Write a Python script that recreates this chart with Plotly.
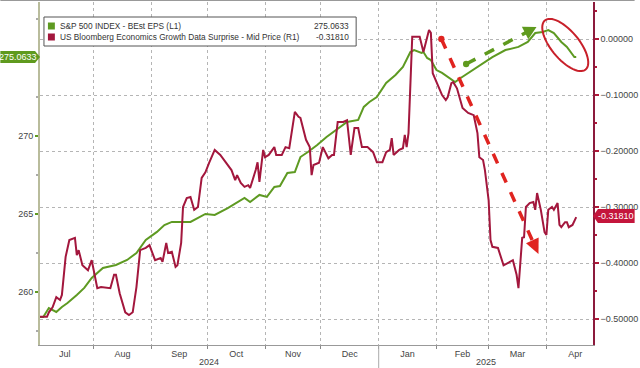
import numpy as np
import plotly.graph_objects as go

# ---------------- data ----------------
eps_dates = ["2024-07-03", "2024-07-05", "2024-07-08", "2024-07-12", "2024-07-15", "2024-07-18",
             "2024-07-23", "2024-07-27", "2024-07-31", "2024-08-03", "2024-08-06", "2024-08-13",
             "2024-08-19", "2024-08-24", "2024-08-29", "2024-09-04", "2024-09-08", "2024-09-12",
             "2024-09-15", "2024-09-22", "2024-09-30", "2024-10-05", "2024-10-12", "2024-10-21",
             "2024-10-24", "2024-10-29", "2024-11-02", "2024-11-06", "2024-11-09", "2024-11-13",
             "2024-11-17", "2024-11-20", "2024-11-24", "2024-11-29", "2024-12-04", "2024-12-09",
             "2024-12-15", "2024-12-21", "2024-12-24", "2024-12-27", "2024-12-31", "2025-01-05",
             "2025-01-10", "2025-01-14", "2025-01-18", "2025-01-20", "2025-01-24", "2025-01-25",
             "2025-01-27", "2025-01-29", "2025-02-01", "2025-02-04", "2025-02-09", "2025-02-11",
             "2025-02-14", "2025-02-18", "2025-02-23", "2025-03-03", "2025-03-10", "2025-03-17",
             "2025-03-22", "2025-03-26", "2025-03-30", "2025-04-02", "2025-04-05", "2025-04-09",
             "2025-04-12", "2025-04-16", "2025-04-17"]
eps_values = [258.40, 258.40, 258.97, 258.72, 259.04, 259.29,
              259.81, 260.26, 260.90, 261.22, 261.54, 261.73,
              262.05, 262.50, 263.33, 263.85, 264.29, 264.49,
              264.49, 264.49, 265.00, 264.94, 265.38, 266.03,
              265.77, 266.22, 266.09, 266.73, 266.79, 267.63,
              267.69, 268.65, 268.97, 269.42, 269.94, 270.38,
              270.90, 271.03, 271.86, 272.18, 272.50, 273.40,
              273.91, 274.42, 275.38, 275.51, 275.32, 275.38,
              275.00, 274.87, 274.23, 274.04, 273.59, 273.46,
              273.72, 274.04, 274.42, 275.06, 275.51, 275.71,
              276.03, 276.60, 276.67, 276.79, 276.60, 276.03,
              275.71, 275.06, 275.0633]

surp_dates = ["2024-07-03", "2024-07-07", "2024-07-08", "2024-07-10", "2024-07-12", "2024-07-14",
              "2024-07-15", "2024-07-17", "2024-07-19", "2024-07-22", "2024-07-23", "2024-07-24",
              "2024-07-26", "2024-07-29", "2024-07-31", "2024-08-03", "2024-08-05", "2024-08-10",
              "2024-08-12", "2024-08-13", "2024-08-15", "2024-08-18", "2024-08-20", "2024-08-22",
              "2024-08-24", "2024-08-26", "2024-08-29", "2024-08-31", "2024-09-03", "2024-09-06",
              "2024-09-07", "2024-09-09", "2024-09-10", "2024-09-12", "2024-09-14", "2024-09-15",
              "2024-09-17", "2024-09-18", "2024-09-20", "2024-09-22", "2024-09-24", "2024-09-26",
              "2024-09-28", "2024-09-30", "2024-10-02", "2024-10-05", "2024-10-08", "2024-10-12",
              "2024-10-14", "2024-10-16", "2024-10-17", "2024-10-19", "2024-10-21", "2024-10-23",
              "2024-10-24", "2024-10-27", "2024-10-28", "2024-10-29", "2024-10-31", "2024-11-01",
              "2024-11-03", "2024-11-06", "2024-11-07", "2024-11-10", "2024-11-12", "2024-11-14",
              "2024-11-17", "2024-11-19", "2024-11-20", "2024-11-23", "2024-11-25", "2024-11-26",
              "2024-11-27", "2024-11-30", "2024-12-02", "2024-12-05", "2024-12-07", "2024-12-08",
              "2024-12-10", "2024-12-13", "2024-12-15", "2024-12-17", "2024-12-19", "2024-12-21",
              "2024-12-23", "2024-12-26", "2024-12-29", "2024-12-31", "2025-01-03", "2025-01-05",
              "2025-01-07", "2025-01-08", "2025-01-09", "2025-01-12", "2025-01-14", "2025-01-15",
              "2025-01-16", "2025-01-17", "2025-01-19", "2025-01-23", "2025-01-25", "2025-01-28",
              "2025-01-29", "2025-01-30", "2025-02-01", "2025-02-02", "2025-02-04", "2025-02-06",
              "2025-02-07", "2025-02-09", "2025-02-10", "2025-02-12", "2025-02-14", "2025-02-15",
              "2025-02-18", "2025-02-21", "2025-02-23", "2025-02-24", "2025-02-26", "2025-02-27",
              "2025-03-01", "2025-03-02", "2025-03-03", "2025-03-06", "2025-03-09", "2025-03-11",
              "2025-03-14", "2025-03-16", "2025-03-17", "2025-03-19", "2025-03-20", "2025-03-21",
              "2025-03-23", "2025-03-25", "2025-03-26", "2025-03-27", "2025-03-29", "2025-03-31",
              "2025-04-01", "2025-04-02", "2025-04-04", "2025-04-05", "2025-04-07", "2025-04-08",
              "2025-04-09", "2025-04-11", "2025-04-12", "2025-04-13", "2025-04-15", "2025-04-17"]
surp_values = [-0.496, -0.496, -0.488, -0.479, -0.461, -0.466,
               -0.457, -0.389, -0.359, -0.355, -0.386, -0.377,
               -0.404, -0.413, -0.395, -0.445, -0.443, -0.445,
               -0.421, -0.421, -0.454, -0.488, -0.493, -0.488,
               -0.443, -0.377, -0.373, -0.368, -0.395, -0.391,
               -0.398, -0.364, -0.382, -0.380, -0.407, -0.404,
               -0.364, -0.300, -0.284, -0.282, -0.305, -0.300,
               -0.248, -0.238, -0.221, -0.198, -0.207, -0.225,
               -0.234, -0.252, -0.243, -0.257, -0.264, -0.261,
               -0.266, -0.234, -0.220, -0.255, -0.198, -0.211,
               -0.207, -0.193, -0.207, -0.207, -0.193, -0.195,
               -0.130, -0.139, -0.141, -0.180, -0.193, -0.243,
               -0.225, -0.221, -0.193, -0.213, -0.207, -0.207,
               -0.148, -0.148, -0.145, -0.207, -0.159, -0.159,
               -0.193, -0.193, -0.202, -0.220, -0.220, -0.202,
               -0.198, -0.177, -0.207, -0.198, -0.195, -0.171,
               -0.193, -0.168, 0.004, 0.004, -0.023, 0.016,
               0.011, -0.061, -0.077, -0.086, -0.100, -0.109,
               -0.104, -0.079, -0.077, -0.088, -0.109, -0.123,
               -0.132, -0.136, -0.168, -0.211, -0.216, -0.234,
               -0.288, -0.359, -0.371, -0.373, -0.404, -0.400,
               -0.395, -0.421, -0.445, -0.355, -0.354, -0.300,
               -0.293, -0.291, -0.305, -0.275, -0.305, -0.345,
               -0.350, -0.305, -0.300, -0.305, -0.293, -0.332,
               -0.336, -0.327, -0.327, -0.336, -0.332, -0.3181]

eps_name = "S&P 500 INDEX - BEst EPS (L1)"
surp_name = "US Bloomberg Economics Growth Data Surprise - Mid Price (R1)"
eps_last = "275.0633"
surp_last = "-0.31810"
left_ticks = [260, 265, 270]
years = ["2024", "2025"]

GREEN = "#5e9a22"
RED = "#a3173d"
ARROW_RED = "#e02420"
FONT = "Liberation Sans, Arial, sans-serif"

# plot area in pixels
L, R, T, B = 40, 598, 2, 345


def px(x):
    return (x - L) / (R - L)


def py(y):
    return (B - y) / (B - T)


def note(x, y, text, size=9, color="#444", anchor="center"):
    return dict(xref="paper", yref="paper", x=px(x), y=py(y), text=text, showarrow=False,
                xanchor=anchor, yanchor="middle", font=dict(size=size, color=color, family=FONT))


fig = go.Figure()
fig.add_trace(go.Scatter(x=eps_dates, y=eps_values, mode="lines", name=eps_name,
                         line=dict(color=GREEN, width=2), yaxis="y", showlegend=False))
fig.add_trace(go.Scatter(x=surp_dates, y=surp_values, mode="lines", name=surp_name,
                         line=dict(color=RED, width=2), yaxis="y2", showlegend=False))

shapes = []
annotations = []

# legend box
shapes.append(dict(type="rect", xref="paper", yref="paper", x0=px(44), x1=px(359), y0=py(46), y1=py(17),
                   line=dict(color="#555", width=1), fillcolor="white", layer="above"))
for i, (col, name, val) in enumerate([(GREEN, eps_name, eps_last), (RED, surp_name, surp_last)]):
    yc = 26 + i * 11
    shapes.append(dict(type="rect", xref="paper", yref="paper", x0=px(48), x1=px(55),
                       y0=py(yc + 3.5), y1=py(yc - 3.5), line=dict(width=0), fillcolor=col, layer="above"))
    annotations.append(note(58, yc, name, size=8.3, color="#333", anchor="left"))
    annotations.append(note(354, yc, val, size=8.3, color="#333", anchor="right"))


def poly(points):
    return "M " + " L ".join(f"{px(a):.5f},{py(b):.5f}" for a, b in points) + " Z"


# value tags
shapes.append(dict(type="path", xref="paper", yref="paper",
                   path=poly([(0, 51), (35, 51), (40, 57), (35, 63), (0, 63)]),
                   fillcolor="#5f9a1e", line=dict(width=0), layer="above"))
annotations.append(note(18, 57, eps_last, size=9, color="white"))
shapes.append(dict(type="path", xref="paper", yref="paper",
                   path=poly([(598, 216), (603, 209), (640, 209), (640, 223), (603, 223)]),
                   fillcolor="#c4163c", line=dict(width=0), layer="above"))
annotations.append(note(621, 216, surp_last, size=9, color="white"))

# year labels and separator
annotations.append(note(211, 362, years[0]))
annotations.append(note(490, 362, years[1]))
shapes.append(dict(type="line", xref="x", yref="paper", x0="2025-01-01", x1="2025-01-01",
                   y0=py(345), y1=py(368), line=dict(color="#aaa", width=1)))


# dashed arrows
def arrow(start, tip, color, hl=14, hw=7, dot=3.2):
    sx, sy = start
    tx, ty = tip
    dx, dy = tx - sx, ty - sy
    n = np.hypot(dx, dy)
    ux, uy = dx / n, dy / n
    bx, by = tx - hl * ux, ty - hl * uy
    pxp, pyp = -uy * hw, ux * hw
    shapes.append(dict(type="line", xref="paper", yref="paper", x0=px(sx), y0=py(sy),
                       x1=px(bx + 2 * ux), y1=py(by + 2 * uy),
                       line=dict(color=color, width=3.5, dash="dash"), layer="above"))
    shapes.append(dict(type="path", xref="paper", yref="paper",
                       path=poly([(tx, ty), (bx + pxp, by + pyp), (bx - pxp, by - pyp)]),
                       fillcolor=color, line=dict(width=0), layer="above"))
    shapes.append(dict(type="circle", xref="paper", yref="paper", x0=px(sx - dot), x1=px(sx + dot),
                       y0=py(sy + dot), y1=py(sy - dot), fillcolor=color, line=dict(width=0), layer="above"))


arrow((445, 39), (543, 254), ARROW_RED, hl=15, hw=7)
arrow((470, 64), (541, 27), "#5f9a1e", hl=13, hw=7)

# ellipse around the recent EPS drop
t = np.linspace(0, 2 * np.pi, 60)
ang = np.deg2rad(50)
cx, cy, a, b = 570, 45, 32, 14
ex = cx + a * np.cos(t) * np.cos(ang) - b * np.sin(t) * np.sin(ang)
ey = cy + a * np.cos(t) * np.sin(ang) + b * np.sin(t) * np.cos(ang)
shapes.append(dict(type="path", xref="paper", yref="paper",
                   path=poly(list(zip(ex, ey))), line=dict(color="#c8202a", width=2), layer="above"))

# top frame line
shapes.append(dict(type="line", xref="paper", yref="paper", x0=px(0), x1=px(640), y0=py(0.5), y1=py(0.5),
                   line=dict(color="#999", width=1)))

fig.update_layout(
    width=640, height=368,
    margin=dict(l=L, r=640 - R, t=T, b=368 - B),
    paper_bgcolor="white", plot_bgcolor="white",
    font=dict(family=FONT, size=9, color="#444"),
    shapes=shapes, annotations=annotations,
    xaxis=dict(type="date", range=["2024-07-03 06:00", "2025-04-26"],
               dtick="M1", tick0="2024-07-01", ticklabelmode="period", tickformat="%b",
               ticks="outside", ticklen=3, tickcolor="#888", ticklabelstandoff=-3,
               showgrid=True, gridcolor="#b5b5b5", griddash="dot", gridwidth=1,
               showline=True, linecolor="#999", linewidth=1, zeroline=False,
               tickfont=dict(size=9, color="#444")),
    yaxis=dict(range=[256.60, 278.59], tickvals=left_ticks, ticks="outside", ticklen=3,
               tickcolor=GREEN, tickwidth=2, showgrid=False, zeroline=False,
               showline=True, linecolor="#b9bc9c", linewidth=2,
               tickfont=dict(size=9, color="#444"),
               minor=dict(dtick=2.5, tick0=257.5, ticks="outside", ticklen=2, tickcolor="#aaa")),
    yaxis2=dict(range=[-0.5464, 0.0661], overlaying="y", side="right", dtick=0.1, tick0=0,
                tickformat=".5f", ticks="outside", ticklen=4, tickwidth=2, tickcolor="#b01a3a",
                showgrid=True, gridcolor="#b5b5b5", griddash="dot", zeroline=False,
                showline=True, linecolor="#8c1a3c", linewidth=1.5,
                tickfont=dict(size=9, color="#444"),
                minor=dict(dtick=0.05, tick0=0, ticks="outside", ticklen=2, tickcolor="#b01a3a")),
)

fig.write_html("out.html")
